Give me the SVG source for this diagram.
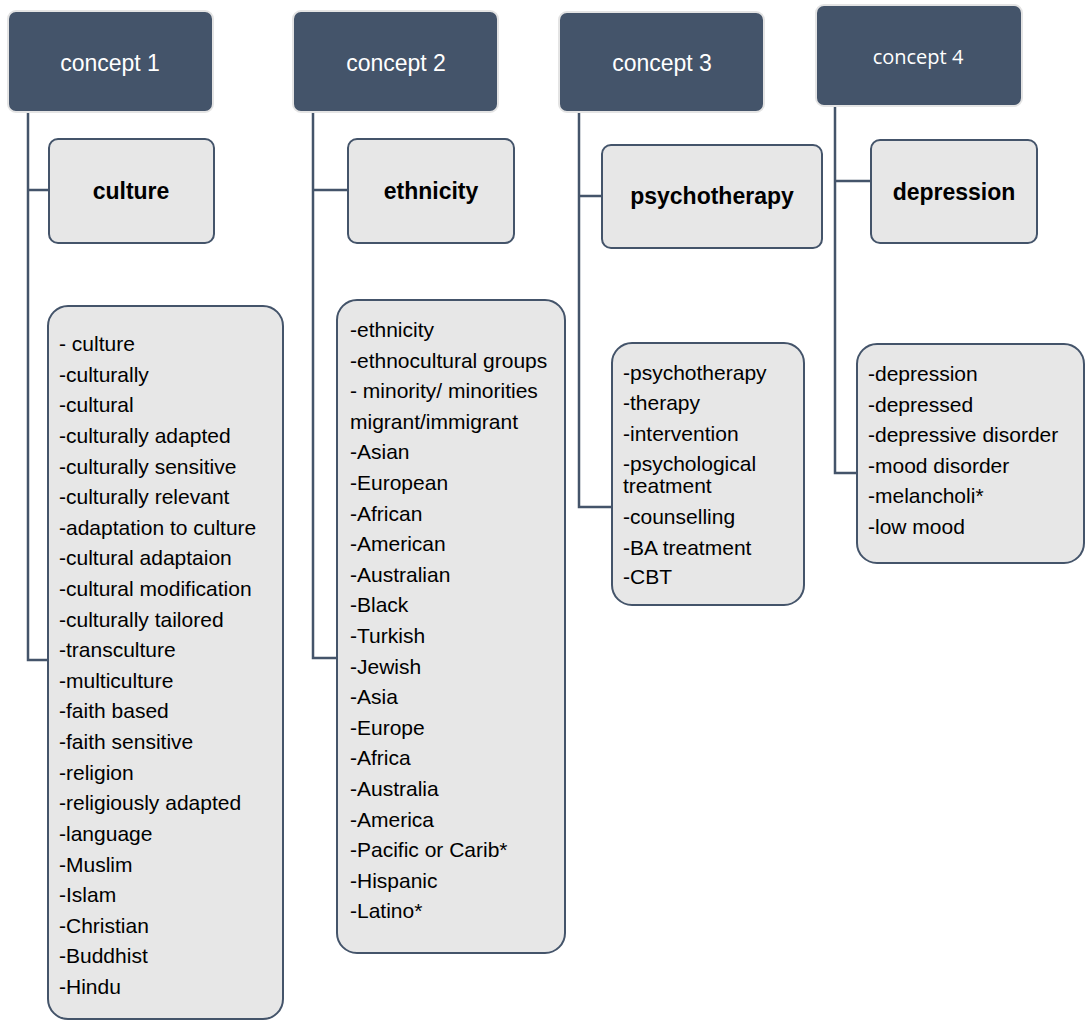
<svg xmlns="http://www.w3.org/2000/svg" width="1085" height="1020" viewBox="0 0 1085 1020">
<style>
.concept{fill:#44546a;stroke:#e4e4e4;stroke-width:2}
.ct{font-family:"Liberation Sans",Arial,sans-serif;font-size:23px;fill:#ffffff;text-anchor:middle}
.ct4{font-family:"Open Sans","Noto Sans",sans-serif;font-size:20px;fill:#ffffff;text-anchor:middle}
.sub{fill:#e7e7e7;stroke:#44546a;stroke-width:2}
.st{font-family:"Liberation Sans",Arial,sans-serif;font-size:23px;font-weight:bold;fill:#000;text-anchor:middle}
.lt{font-family:"Liberation Sans",Arial,sans-serif;font-size:21px;fill:#000}
.conn{fill:none;stroke:#44546a;stroke-width:2.5}
</style>
<rect width="1085" height="1020" fill="#ffffff"/>
<g id="connectors">
<path class="conn" d="M28 112 V660 H49 M28 190 H49"/>
<path class="conn" d="M313 112 V658 H338 M313 190 H348"/>
<path class="conn" d="M579 112 V507 H612 M579 196 H602"/>
<path class="conn" d="M835 106 V473 H857 M835 181 H871"/>
</g>
<g id="concept1"><rect class="concept" x="8" y="11" width="205" height="101" rx="8"/><text class="ct" x="110" y="71">concept 1</text></g>
<g id="concept2"><rect class="concept" x="293" y="11" width="205" height="101" rx="8"/><text class="ct" x="396" y="71">concept 2</text></g>
<g id="concept3"><rect class="concept" x="559" y="12" width="205" height="100" rx="8"/><text class="ct" x="662" y="71">concept 3</text></g>
<g id="concept4"><rect class="concept" x="816" y="5" width="206" height="101" rx="8"/><text class="ct4" x="918" y="64">concept 4</text></g>
<g id="culture"><rect class="sub" x="49" y="139" width="165" height="104" rx="9"/><text class="st" x="131" y="199">culture</text></g>
<g id="ethnicity"><rect class="sub" x="348" y="139" width="166" height="104" rx="9"/><text class="st" x="431" y="199">ethnicity</text></g>
<g id="psychotherapy"><rect class="sub" x="602" y="145" width="220" height="103" rx="9"/><text class="st" x="712" y="204">psychotherapy</text></g>
<g id="depression"><rect class="sub" x="871" y="140" width="166" height="103" rx="9"/><text class="st" x="954" y="200">depression</text></g>
<g id="list1"><rect class="sub" x="48" y="306" width="235" height="713" rx="20"/>
<text class="lt">
<tspan x="59" y="351">- culture</tspan>
<tspan x="59" y="381.6">-culturally</tspan>
<tspan x="59" y="412.2">-cultural</tspan>
<tspan x="59" y="442.9">-culturally adapted</tspan>
<tspan x="59" y="473.5">-culturally sensitive</tspan>
<tspan x="59" y="504.1">-culturally relevant</tspan>
<tspan x="59" y="534.7">-adaptation to culture</tspan>
<tspan x="59" y="565.3">-cultural adaptaion</tspan>
<tspan x="59" y="596">-cultural modification</tspan>
<tspan x="59" y="626.6">-culturally tailored</tspan>
<tspan x="59" y="657.2">-transculture</tspan>
<tspan x="59" y="687.8">-multiculture</tspan>
<tspan x="59" y="718.4">-faith based</tspan>
<tspan x="59" y="749.1">-faith sensitive</tspan>
<tspan x="59" y="779.7">-religion</tspan>
<tspan x="59" y="810.3">-religiously adapted</tspan>
<tspan x="59" y="840.9">-language</tspan>
<tspan x="59" y="871.5">-Muslim</tspan>
<tspan x="59" y="902.2">-Islam</tspan>
<tspan x="59" y="932.8">-Christian</tspan>
<tspan x="59" y="963.4">-Buddhist</tspan>
<tspan x="59" y="994">-Hindu</tspan>
</text></g>
<g id="list2"><rect class="sub" x="337" y="300" width="228" height="653" rx="20"/>
<text class="lt">
<tspan x="350" y="337">-ethnicity</tspan>
<tspan x="350" y="367.6">-ethnocultural groups</tspan>
<tspan x="350" y="398.2">- minority/ minorities</tspan>
<tspan x="350" y="428.8">migrant/immigrant</tspan>
<tspan x="350" y="459.4">-Asian</tspan>
<tspan x="350" y="490">-European</tspan>
<tspan x="350" y="520.6">-African</tspan>
<tspan x="350" y="551.2">-American</tspan>
<tspan x="350" y="581.8">-Australian</tspan>
<tspan x="350" y="612.4">-Black</tspan>
<tspan x="350" y="643">-Turkish</tspan>
<tspan x="350" y="673.6">-Jewish</tspan>
<tspan x="350" y="704.2">-Asia</tspan>
<tspan x="350" y="734.8">-Europe</tspan>
<tspan x="350" y="765.4">-Africa</tspan>
<tspan x="350" y="796">-Australia</tspan>
<tspan x="350" y="826.6">-America</tspan>
<tspan x="350" y="857.2">-Pacific or Carib*</tspan>
<tspan x="350" y="887.8">-Hispanic</tspan>
<tspan x="350" y="918.4">-Latino*</tspan>
</text></g>
<g id="list3"><rect class="sub" x="612" y="343" width="192" height="262" rx="20"/>
<text class="lt">
<tspan x="623" y="380">-psychotherapy</tspan>
<tspan x="623" y="410">-therapy</tspan>
<tspan x="623" y="441">-intervention</tspan>
<tspan x="623" y="471">-psychological</tspan>
<tspan x="623" y="493">treatment</tspan>
<tspan x="623" y="524">-counselling</tspan>
<tspan x="623" y="555">-BA treatment</tspan>
<tspan x="623" y="584">-CBT</tspan>
</text></g>
<g id="list4"><rect class="sub" x="857" y="344" width="227" height="219" rx="20"/>
<text class="lt">
<tspan x="868" y="381">-depression</tspan>
<tspan x="868" y="412">-depressed</tspan>
<tspan x="868" y="442">-depressive disorder</tspan>
<tspan x="868" y="473">-mood disorder</tspan>
<tspan x="868" y="503">-melancholi*</tspan>
<tspan x="868" y="534">-low mood</tspan>
</text></g>
</svg>
